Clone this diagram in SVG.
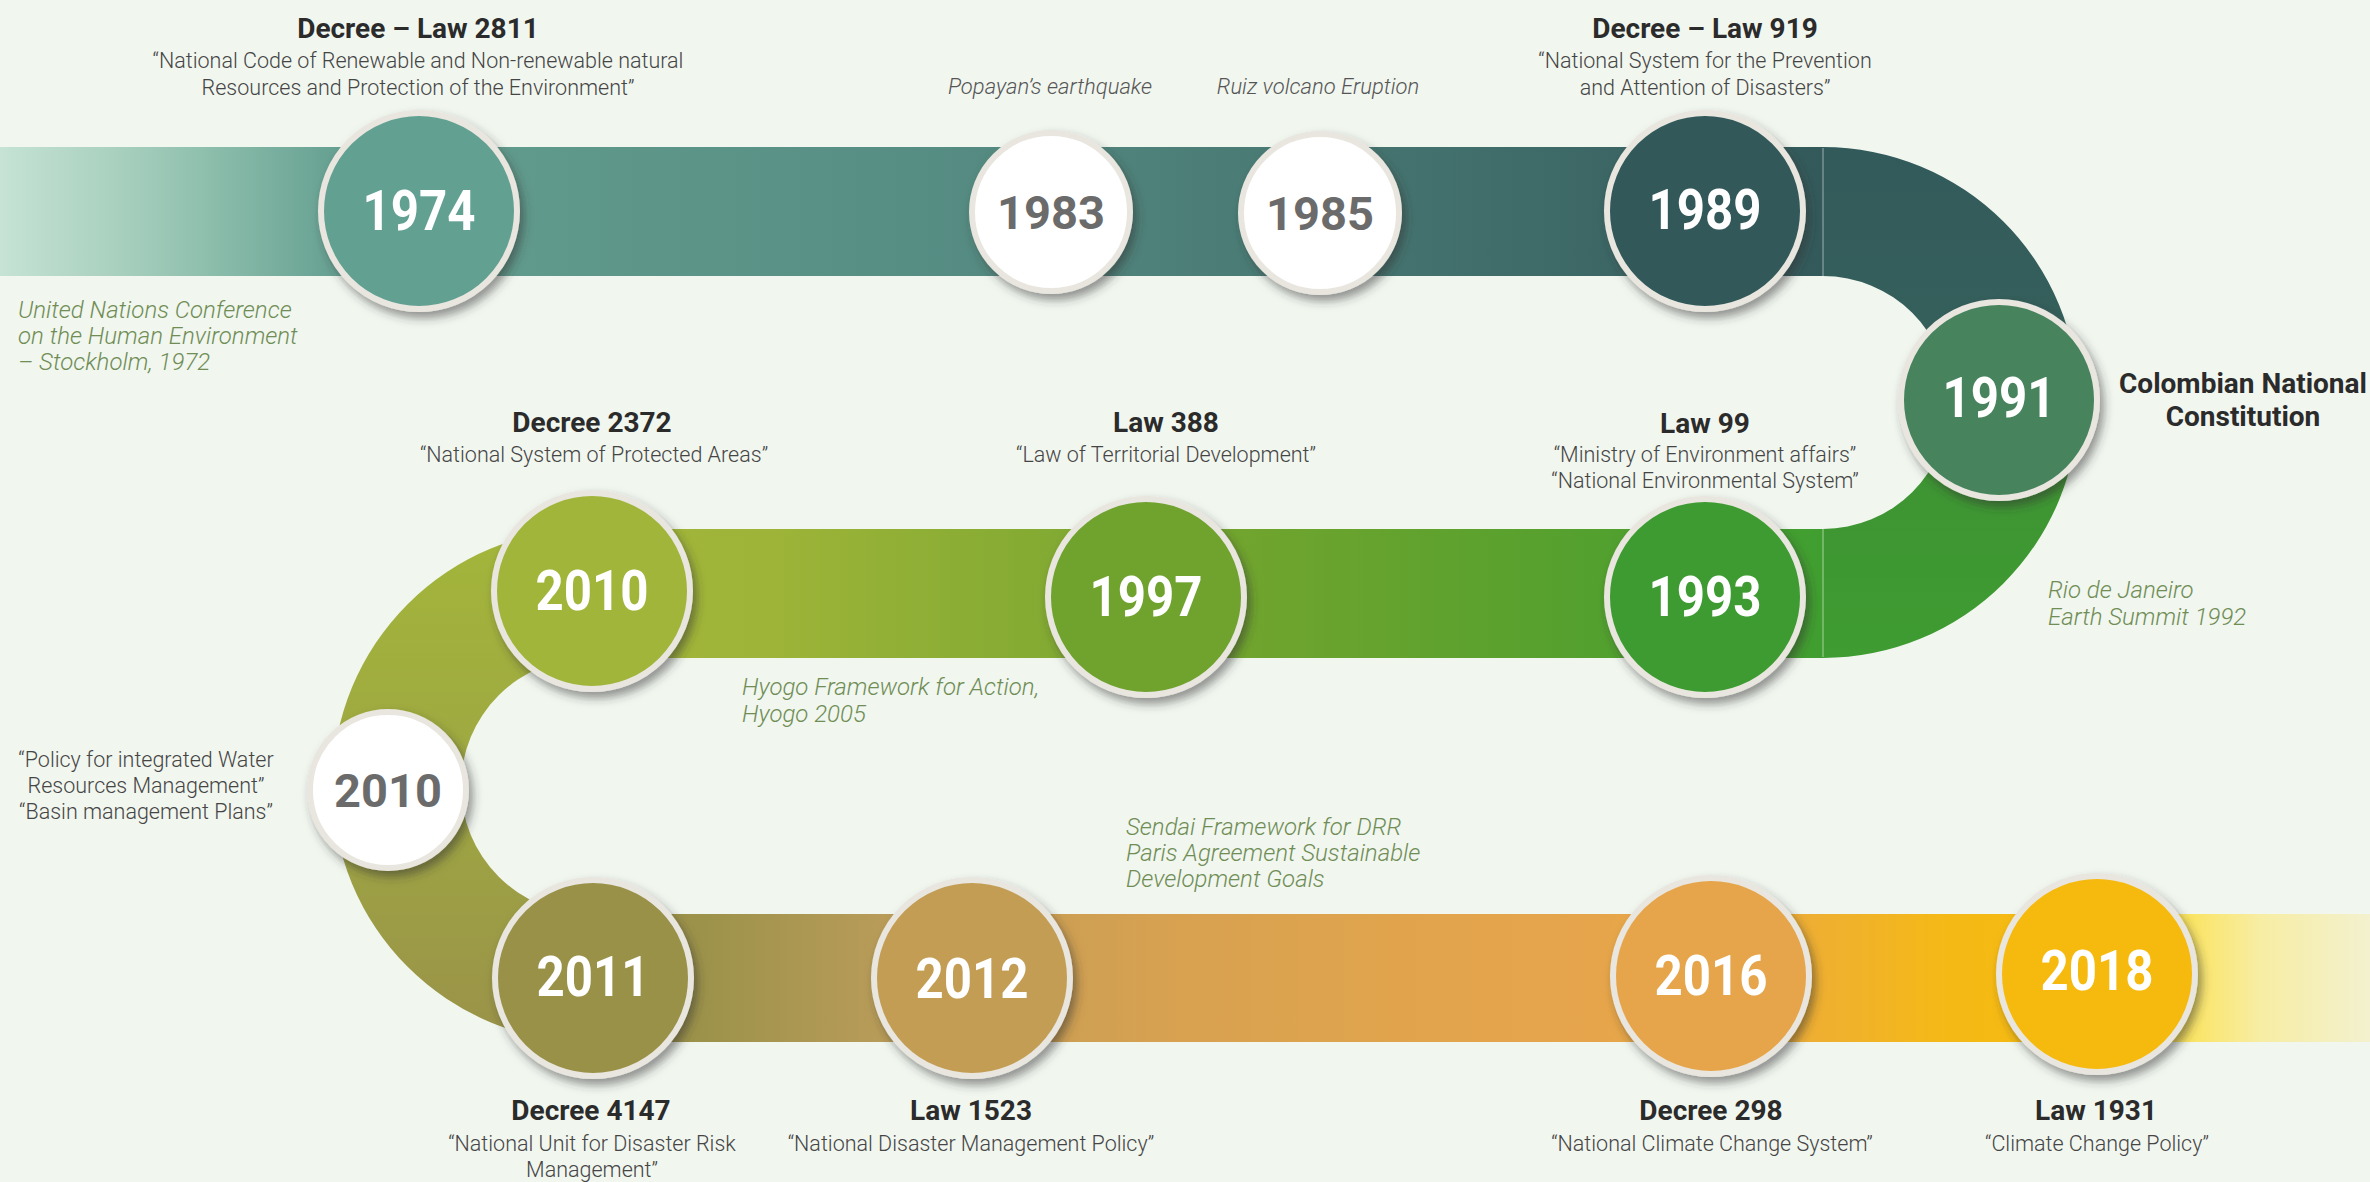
<svg xmlns="http://www.w3.org/2000/svg" width="2370" height="1182" viewBox="0 0 2370 1182">
<defs>
<style>
.ring{stroke:#e8e6df;stroke-width:6;filter:url(#sh)}
.yr{font-family:Roboto,"Liberation Sans",sans-serif;font-weight:700;font-size:56px;fill:#ffffff;text-anchor:middle}
.yrw{font-family:Roboto,"Liberation Sans",sans-serif;font-weight:700;font-size:47px;fill:#6b6b6b;text-anchor:middle}
.ttl{font-family:Roboto,"Liberation Sans",sans-serif;font-weight:700;font-size:28px;fill:#2b2b2b;text-anchor:middle}
.sub{font-family:Roboto,"Liberation Sans",sans-serif;font-weight:300;font-size:21.5px;fill:#454545;text-anchor:middle}
.evt{font-family:Roboto,"Liberation Sans",sans-serif;font-weight:300;font-style:italic;font-size:22px;fill:#555555;text-anchor:middle}
.note{font-family:Roboto,"Liberation Sans",sans-serif;font-weight:300;font-style:italic;font-size:24px;fill:#6f8d55}
.seam{stroke:#ffffff;stroke-opacity:0.35;stroke-width:1.5}
</style>
<filter id="sh" x="-25%" y="-25%" width="160%" height="160%">
<feDropShadow dx="4" dy="6" stdDeviation="5" flood-color="#2d2d2d" flood-opacity="0.5"/>
</filter>
<linearGradient id="g1" gradientUnits="userSpaceOnUse" x1="0" y1="0" x2="1823" y2="0">
<stop offset="0" stop-color="#c6e3d5"/>
<stop offset="0.07" stop-color="#a6cebd"/>
<stop offset="0.11" stop-color="#90c0ae"/>
<stop offset="0.18" stop-color="#68a293"/>
<stop offset="0.3" stop-color="#5f998b"/>
<stop offset="0.5" stop-color="#578e84"/>
<stop offset="0.7" stop-color="#497a74"/>
<stop offset="0.85" stop-color="#3e6a68"/>
<stop offset="1" stop-color="#33595a"/>
</linearGradient>
<linearGradient id="gR" gradientUnits="userSpaceOnUse" x1="0" y1="147" x2="0" y2="658">
<stop offset="0" stop-color="#325a5b"/>
<stop offset="0.45" stop-color="#36615b"/>
<stop offset="0.62" stop-color="#3e9433"/>
<stop offset="1" stop-color="#3e9c31"/>
</linearGradient>
<linearGradient id="g2" gradientUnits="userSpaceOnUse" x1="588" y1="0" x2="1823" y2="0">
<stop offset="0" stop-color="#a3b63a"/>
<stop offset="0.15" stop-color="#9db438"/>
<stop offset="0.35" stop-color="#86ab33"/>
<stop offset="0.55" stop-color="#6ea42e"/>
<stop offset="0.75" stop-color="#5aa12e"/>
<stop offset="1" stop-color="#409e30"/>
</linearGradient>
<linearGradient id="gL" gradientUnits="userSpaceOnUse" x1="0" y1="529" x2="0" y2="1042">
<stop offset="0" stop-color="#a3b63a"/>
<stop offset="0.5" stop-color="#9ea742"/>
<stop offset="1" stop-color="#9a9249"/>
</linearGradient>
<linearGradient id="g3" gradientUnits="userSpaceOnUse" x1="588" y1="0" x2="2370" y2="0">
<stop offset="0" stop-color="#9a9148"/>
<stop offset="0.063" stop-color="#9c924a"/>
<stop offset="0.158" stop-color="#b69b58"/>
<stop offset="0.214" stop-color="#c49d55"/>
<stop offset="0.315" stop-color="#d6a151"/>
<stop offset="0.456" stop-color="#e1a44d"/>
<stop offset="0.568" stop-color="#e6a54b"/>
<stop offset="0.68" stop-color="#eeae35"/>
<stop offset="0.764" stop-color="#f5b916"/>
<stop offset="0.848" stop-color="#f7bb0e"/>
<stop offset="0.893" stop-color="#fbe35a"/>
<stop offset="0.938" stop-color="#f7eda3"/>
<stop offset="1" stop-color="#f3f1cf"/>
</linearGradient>
</defs>
<rect x="0" y="0" width="2370" height="1182" fill="#f1f6ef"/>

<g id="connectors">
<rect x="0" y="147" width="1824" height="129" fill="url(#g1)"/>
<path d="M1823,147 A255.5,255.5 0 0 1 1823,658 L1823,529 A126.5,126.5 0 0 0 1823,276 Z" fill="url(#gR)"/>
<rect x="588" y="529" width="1236" height="129" fill="url(#g2)"/>
<path d="M589,529 A256.5,256.5 0 0 0 589,1042 L589,914 A128,128 0 0 1 589,658 Z" fill="url(#gL)"/>
<rect x="588" y="914" width="1782" height="128" fill="url(#g3)"/>
<line class="seam" x1="1823" y1="148" x2="1823" y2="276"/>
<line class="seam" x1="1823" y1="529" x2="1823" y2="657"/>
</g>

<g id="note-stockholm">
<text class="note" x="18" y="318">United Nations Conference</text>
<text class="note" x="18" y="344">on the Human Environment</text>
<text class="note" x="18" y="370">– Stockholm, 1972</text>
</g>

<g id="node-1974">
<circle class="ring" cx="419" cy="211" r="98" fill="#62a091"/>
<text class="yr" x="419" y="230" textLength="113" lengthAdjust="spacingAndGlyphs">1974</text>
<text class="ttl" x="418" y="38">Decree – Law 2811</text>
<text class="sub" x="418" y="68">“National Code of Renewable and Non-renewable natural</text>
<text class="sub" x="418" y="95">Resources and Protection of the Environment”</text>
</g>

<g id="node-1983">
<circle class="ring" cx="1051" cy="212" r="79" fill="#ffffff"/>
<text class="yrw" x="1051" y="229">1983</text>
<text class="evt" x="1050" y="94">Popayan’s earthquake</text>
</g>

<g id="node-1985">
<circle class="ring" cx="1320" cy="213" r="79" fill="#ffffff"/>
<text class="yrw" x="1320" y="230">1985</text>
<text class="evt" x="1318" y="94">Ruiz volcano Eruption</text>
</g>

<g id="node-1989">
<circle class="ring" cx="1705" cy="211" r="98" fill="#31595a"/>
<text class="yr" x="1705" y="229" textLength="113" lengthAdjust="spacingAndGlyphs">1989</text>
<text class="ttl" x="1705" y="38">Decree – Law 919</text>
<text class="sub" x="1705" y="68">“National System for the Prevention</text>
<text class="sub" x="1705" y="95">and Attention of Disasters”</text>
</g>

<g id="node-1991">
<circle class="ring" cx="1999" cy="400" r="98" fill="#46835c"/>
<text class="yr" x="1999" y="417" textLength="113" lengthAdjust="spacingAndGlyphs">1991</text>
<text class="ttl" x="2243" y="393">Colombian National</text>
<text class="ttl" x="2243" y="426">Constitution</text>
</g>

<g id="note-rio">
<text class="note" x="2048" y="598">Rio de Janeiro</text>
<text class="note" x="2048" y="625">Earth Summit 1992</text>
</g>

<g id="node-1993">
<circle class="ring" cx="1705" cy="597" r="98" fill="#3d9b30"/>
<text class="yr" x="1705" y="616" textLength="113" lengthAdjust="spacingAndGlyphs">1993</text>
<text class="ttl" x="1705" y="433">Law 99</text>
<text class="sub" x="1705" y="462">“Ministry of Environment affairs”</text>
<text class="sub" x="1705" y="488">“National Environmental System”</text>
</g>

<g id="node-1997">
<circle class="ring" cx="1146" cy="597" r="98" fill="#6fa22d"/>
<text class="yr" x="1146" y="616" textLength="113" lengthAdjust="spacingAndGlyphs">1997</text>
<text class="ttl" x="1166" y="432">Law 388</text>
<text class="sub" x="1166" y="462">“Law of Territorial Development”</text>
</g>

<g id="note-hyogo">
<text class="note" x="742" y="695">Hyogo Framework for Action,</text>
<text class="note" x="742" y="722">Hyogo 2005</text>
</g>

<g id="node-2010a">
<circle class="ring" cx="592" cy="591" r="98" fill="#a2b53a"/>
<text class="yr" x="592" y="610" textLength="113" lengthAdjust="spacingAndGlyphs">2010</text>
<text class="ttl" x="592" y="432">Decree 2372</text>
<text class="sub" x="594" y="462">“National System of Protected Areas”</text>
</g>

<g id="node-2010b">
<circle class="ring" cx="388" cy="790" r="78" fill="#ffffff"/>
<text class="yrw" x="388" y="807">2010</text>
<text class="sub" x="146" y="767">“Policy for integrated Water</text>
<text class="sub" x="146" y="793">Resources Management”</text>
<text class="sub" x="146" y="819">“Basin management Plans”</text>
</g>

<g id="note-sendai">
<text class="note" x="1126" y="835">Sendai Framework for DRR</text>
<text class="note" x="1126" y="861">Paris Agreement Sustainable</text>
<text class="note" x="1126" y="887">Development Goals</text>
</g>

<g id="node-2011">
<circle class="ring" cx="593" cy="978" r="98" fill="#9a914a"/>
<text class="yr" x="593" y="996" textLength="113" lengthAdjust="spacingAndGlyphs">2011</text>
<text class="ttl" x="591" y="1120">Decree 4147</text>
<text class="sub" x="592" y="1151">“National Unit for Disaster Risk</text>
<text class="sub" x="592" y="1177">Management”</text>
</g>

<g id="node-2012">
<circle class="ring" cx="972" cy="978" r="98" fill="#c49d55"/>
<text class="yr" x="972" y="998" textLength="113" lengthAdjust="spacingAndGlyphs">2012</text>
<text class="ttl" x="971" y="1120">Law 1523</text>
<text class="sub" x="971" y="1151">“National Disaster Management Policy”</text>
</g>

<g id="node-2016">
<circle class="ring" cx="1711" cy="976" r="98" fill="#e6a54b"/>
<text class="yr" x="1711" y="995" textLength="113" lengthAdjust="spacingAndGlyphs">2016</text>
<text class="ttl" x="1711" y="1120">Decree 298</text>
<text class="sub" x="1712" y="1151">“National Climate Change System”</text>
</g>

<g id="node-2018">
<circle class="ring" cx="2097" cy="974" r="98" fill="#f6b90c"/>
<text class="yr" x="2097" y="990" textLength="113" lengthAdjust="spacingAndGlyphs">2018</text>
<text class="ttl" x="2096" y="1120">Law 1931</text>
<text class="sub" x="2097" y="1151">“Climate Change Policy”</text>
</g>
</svg>
